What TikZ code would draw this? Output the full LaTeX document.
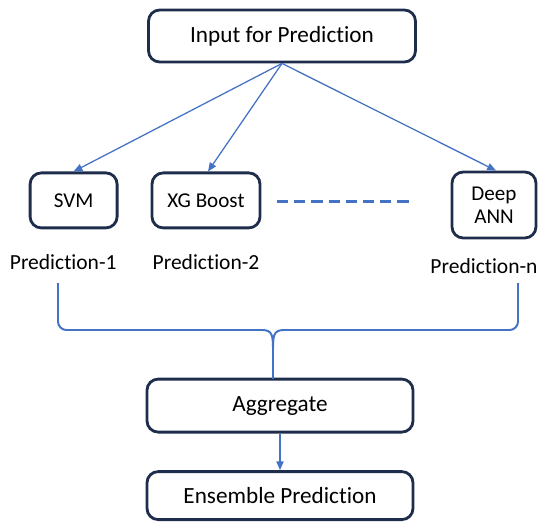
\documentclass[tikz,border=0pt]{standalone}
\usepackage{fontspec}
\setmainfont{Carlito}[RawFeature={-liga;-clig;-calt}]
\usetikzlibrary{arrows.meta}
\definecolor{boxline}{HTML}{1F2D4D}
\definecolor{linkblue}{HTML}{4472C4}
\tikzset{
  block/.style={draw=boxline, line width=2pt, rounded corners=0.28cm, align=center, inner sep=0pt},
  bigblock/.style={block, font=\fontsize{16.5}{19}\selectfont},
  model/.style={block, font=\fontsize{15}{17}\selectfont},
  predlabel/.style={font=\fontsize{15.3}{18}\selectfont, inner sep=0pt},
  link/.style={draw=linkblue, line width=0.9pt, -{Triangle[length=2.2mm,width=1.8mm]}},
  brace/.style={draw=linkblue, line width=1.4pt}
}
\begin{document}
\begin{tikzpicture}
  \useasboundingbox (0,0) rectangle (13.45,-13.075);
  % boxes
  \node[bigblock, minimum width=6.675cm, minimum height=1.3cm] (input) at (7.05,-0.9) {Input for Prediction};
  \node[model, minimum width=2.175cm, minimum height=1.375cm] (svm) at (1.84,-5.01) {SVM};
  \node[model, minimum width=2.7cm, minimum height=1.375cm] (xgb) at (5.15,-5.01) {XG Boost};
  \node[model, minimum width=2.1cm, minimum height=1.65cm] (ann) at (12.35,-5.125) {Deep\\[-1pt]ANN};
  \node[bigblock, minimum width=6.65cm, minimum height=1.325cm] (aggregate) at (7.0,-10.14) {Aggregate};
  \node[bigblock, minimum width=6.65cm, minimum height=1.2cm] (ensemble) at (7.0,-12.39) {Ensemble Prediction};
  % labels
  \node[predlabel] (pred1) at (1.58,-6.55) {Prediction-1};
  \node[predlabel] (pred2) at (5.15,-6.55) {Prediction-2};
  \node[predlabel] (predn) at (12.1,-6.65) {Prediction-n};
  % arrows
  \draw[link] (input.south) -- (svm.north);
  \draw[link] (input.south) -- ([xshift=0.05cm]xgb.north);
  \draw[link] (input.south) -- ([xshift=0.05cm]ann.north);
  \draw[link] (aggregate.south) -- (ensemble.north);
  % dashes between models
  \coordinate (dashl) at (6.925,-5.03);
  \coordinate (dashr) at (10.33,-5.03);
  \draw[linkblue, line width=2pt, dash pattern=on 0.28cm off 0.15cm] (dashl) -- (dashr);
  % brace
  \coordinate (bl) at (1.45,-7.075);
  \coordinate (br) at (12.95,-7.075);
  \coordinate (tip) at (6.825,-9.47);
  \draw[brace, rounded corners=6pt] (bl) |- (6.55,-8.25);
  \draw[brace] (6.55,-8.25) .. controls (6.825,-8.25) and (6.825,-8.4) .. (6.825,-8.8) -- (tip);
  \draw[brace, rounded corners=6pt] (br) |- (7.1,-8.25);
  \draw[brace] (7.1,-8.25) .. controls (6.825,-8.25) and (6.825,-8.4) .. (6.825,-8.8);
\end{tikzpicture}
\end{document}
